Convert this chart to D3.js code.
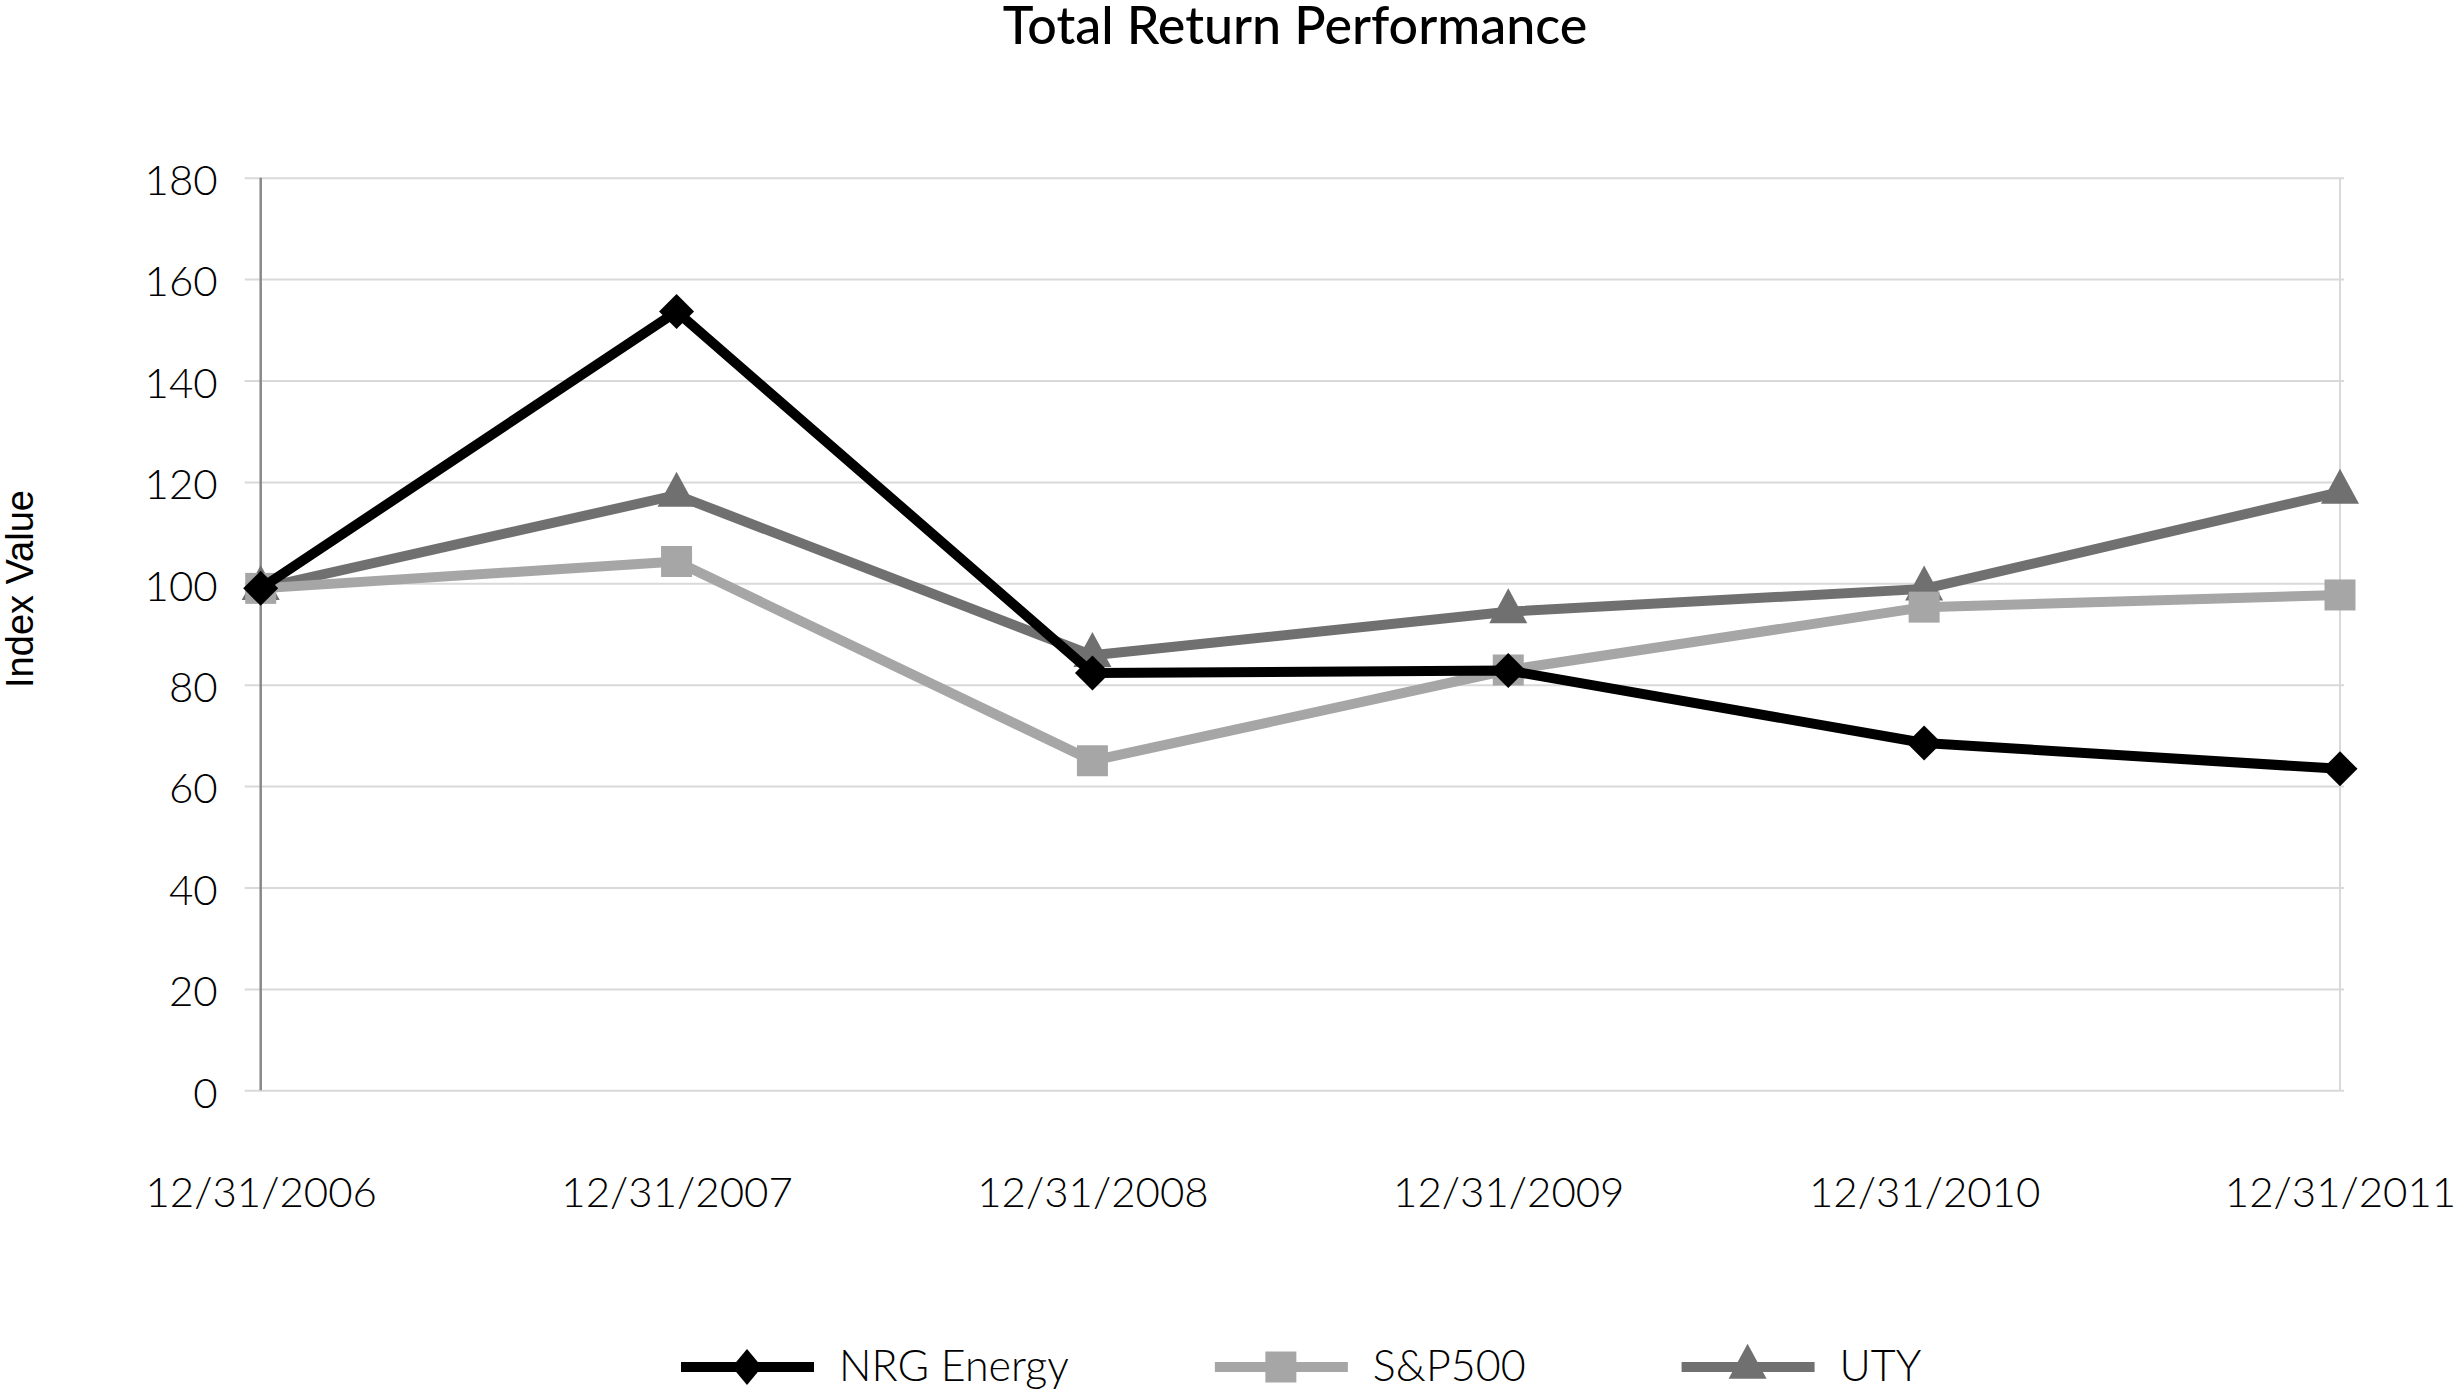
<!DOCTYPE html>
<html>
<head>
<meta charset="utf-8">
<script src="https://cdn.jsdelivr.net/npm/d3@7"></script>
<style>
  html, body { margin: 0; padding: 0; background: #fff; }
  svg { display: block; }
  .tick text { font-family: Lato, sans-serif; font-weight: 300; font-size: 42px; fill: #000; }
</style>
</head>
<body>
<div id="chart"></div>
<script>
// values
var dates = ["12/31/2006", "12/31/2007", "12/31/2008", "12/31/2009", "12/31/2010", "12/31/2011"];
var nrgValues = [99.0, 153.6, 82.3, 82.8, 68.5, 63.4];
var spValues = [99.0, 104.3, 65.0, 82.9, 95.3, 97.7];
var utyValues = [99.0, 117.4, 85.8, 94.4, 98.9, 118.0];
var seriesNames = ["NRG Energy", "S&P500", "UTY"];
var yTicks = [0, 20, 40, 60, 80, 100, 120, 140, 160, 180];

var width = 2455;
var height = 1390;

// plot box
var margin = { top: 177.7, right: 115, bottom: 299.7, left: 260.7 };
var plotRight = width - margin.right;
var plotBottom = height - margin.bottom;

var svg = d3.select("#chart")
  .append("svg")
  .attr("width", width)
  .attr("height", height);

var xScale = d3.scalePoint()
  .domain(dates)
  .range([margin.left, plotRight]);

var yScale = d3.scaleLinear()
  .domain([0, 180])
  .range([plotBottom, margin.top]);

// gridlines + y labels (gridlines stick out 16px left as ticks)
var gridLeft = margin.left - 16;
var gridAxis = d3.axisLeft(yScale)
  .tickValues(yTicks)
  .tickSize(-(plotRight + 4 - gridLeft))
  .tickPadding(27);

var gy = svg.append("g")
  .attr("transform", `translate(${gridLeft},0)`)
  .call(gridAxis);
gy.select(".domain").remove();
gy.selectAll(".tick line").attr("stroke", "#d9d9d9").attr("stroke-width", 2);
gy.selectAll(".tick text").attr("dy", "0.4em");

// right border
svg.append("line")
  .attr("x1", plotRight).attr("x2", plotRight)
  .attr("y1", yScale(180)).attr("y2", yScale(0))
  .attr("stroke", "#d9d9d9")
  .attr("stroke-width", 2);

// vertical axis line
svg.append("line")
  .attr("x1", margin.left).attr("x2", margin.left)
  .attr("y1", yScale(180)).attr("y2", yScale(0))
  .attr("stroke", "#888888")
  .attr("stroke-width", 2.5);

// x labels
var xAxis = d3.axisBottom(xScale).tickSize(0).tickPadding(87);
var gx = svg.append("g")
  .attr("transform", `translate(0,${plotBottom})`)
  .call(xAxis);
gx.select(".domain").remove();

// marker shapes, centred on the point
function diamond(w, h) {
  return `M0,${-h / 2}L${w / 2},0L0,${h / 2}L${-w / 2},0Z`;
}
function square(s) {
  return `M${-s / 2},${-s / 2}h${s}v${s}h${-s}Z`;
}
// triangle sits on its centroid, like the original markers
function triangle(w, h) {
  return `M0,${-h * 2 / 3}L${w / 2},${h / 3}L${-w / 2},${h / 3}Z`;
}

var series = [
  { name: seriesNames[2], values: utyValues, color: "#707070", shape: triangle(38, 35) },
  { name: seriesNames[1], values: spValues, color: "#a6a6a6", shape: square(31) },
  { name: seriesNames[0], values: nrgValues, color: "#000000", shape: diamond(35, 35) }
];

var line = d3.line()
  .x((d, i) => xScale(dates[i]))
  .y(d => yScale(d));

series.forEach(function(s) {
  var g = svg.append("g");
  g.append("path")
    .datum(s.values)
    .attr("d", line)
    .attr("fill", "none")
    .attr("stroke", s.color)
    .attr("stroke-width", 10)
    .attr("stroke-linejoin", "round");

  g.selectAll("path.marker")
    .data(s.values)
    .enter()
    .append("path")
    .attr("class", "marker")
    .attr("d", s.shape)
    .attr("fill", s.color)
    .attr("transform", (d, i) => `translate(${xScale(dates[i])},${yScale(d)})`);
});

// title
svg.append("text")
  .attr("x", 1295)
  .attr("y", 44)
  .attr("text-anchor", "middle")
  .style("font-family", "Lato, sans-serif")
  .style("font-size", "52px")
  .style("font-weight", 500)
  .text("Total Return Performance");

// y axis title
svg.append("text")
  .attr("transform", "translate(33,589) rotate(-90)")
  .attr("text-anchor", "middle")
  .style("font-family", "'Liberation Sans', Arial, sans-serif")
  .style("font-size", "38px")
  .text("Index Value");

// legend
var legendItems = [
  { name: seriesNames[0], color: "#000000", shape: diamond(30, 36) },
  { name: seriesNames[1], color: "#a6a6a6", shape: square(31) },
  { name: seriesNames[2], color: "#707070", shape: triangle(38, 35) }
];
var legendGaps = [146, 156, 0];
var legendY = 1367;
var legendX = 681;
legendItems.forEach(function(item, i) {
  var g = svg.append("g").attr("transform", `translate(${legendX},${legendY})`);
  g.append("line")
    .attr("x1", 0).attr("x2", 133)
    .attr("stroke", item.color)
    .attr("stroke-width", 10);
  g.append("path")
    .attr("d", item.shape)
    .attr("fill", item.color)
    .attr("transform", "translate(66,0)");
  var t = g.append("text")
    .attr("x", 158)
    .attr("y", 14)
    .style("font-family", "Lato, sans-serif")
    .style("font-weight", 300)
    .style("font-size", "43px")
    .text(item.name);
  legendX += 158 + t.node().getComputedTextLength() + legendGaps[i];
});
</script>
</body>
</html>
